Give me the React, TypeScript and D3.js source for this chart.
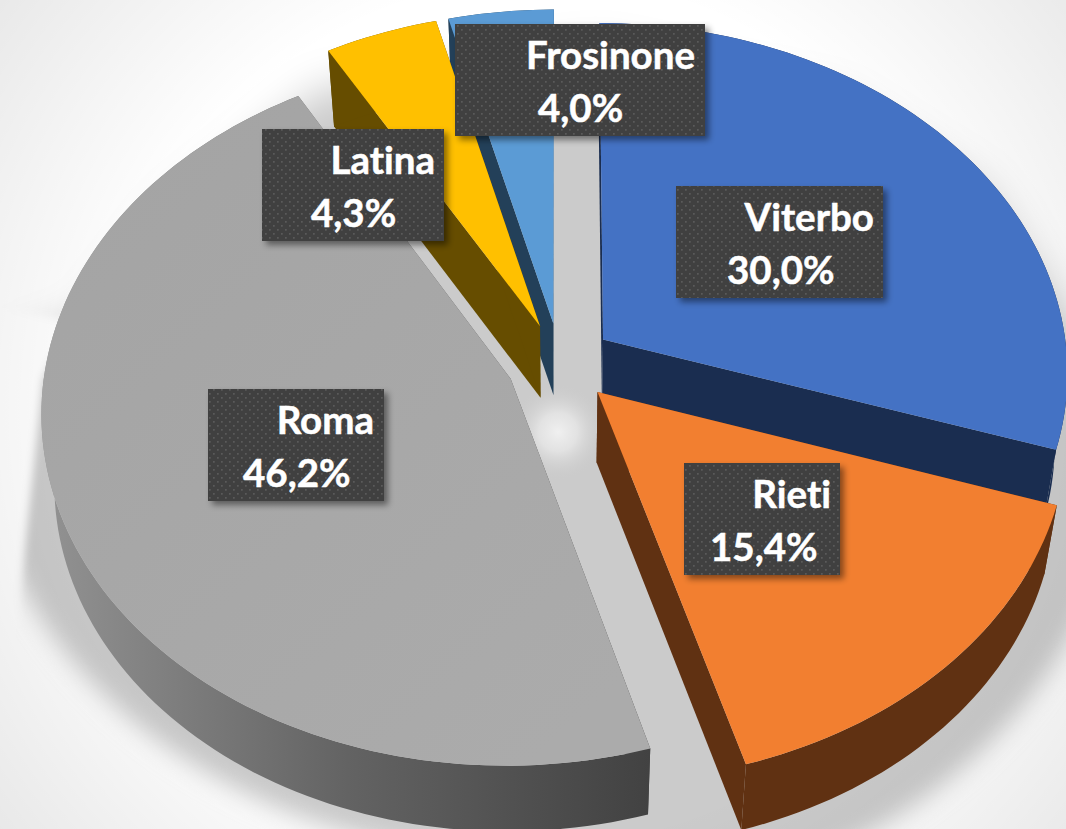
import React from "react";
import * as d3 from "d3";

// values, clockwise from 12 o'clock
const categories = ["Viterbo", "Rieti", "Roma", "Latina", "Frosinone"];
const values = [30.0, 15.4, 46.2, 4.3, 4.0];
const topColors = ["#4472C4", "#F27F30", "url(#romaTop)", "#FFC000", "#5B9BD5"];
const wallColors = ["#1A2D50", "#603112", "url(#romaWall)", "#664D00", "#234059"];
// painter's order, back to front
const drawOrder = [4, 3, 0, 2, 1];

// label boxes: x0, x1, y0, right edge of name, left edge of value
const labelBoxes = [
  { x0: 676, x1: 883, y0: 186, nameRight: 874, valueLeft: 727 },
  { x0: 684, x1: 840, y0: 463, nameRight: 831, valueLeft: 710 },
  { x0: 208, x1: 384, y0: 389, nameRight: 374, valueLeft: 243 },
  { x0: 262, x1: 444, y0: 129, nameRight: 435, valueLeft: 311 },
  { x0: 455, x1: 705, y0: 24, nameRight: 695, valueLeft: 538 },
];

const width = 1066;
const height = 829;

// Fake 3D pie: unit disk projected with a bit of perspective
const cx = 560;
const cy = 363;
const rx = 465;
const ry = 349;
const persp = 0.09;
const explode = 0.115;
const depth = 71;

type Pt = [number, number];

function project(u: number, v: number, bottom: boolean): Pt {
  const w = 1 - persp * v;
  const x = cx + (rx * u) / w;
  const y = cy + (ry * v) / w;
  if (!bottom) return [x, y];
  return [cx + (x - cx) * 0.975, y + depth - 5 * v];
}

const line = d3.line<Pt>();

const pie = d3
  .pie<number>()
  .sort(null)
  .value((d) => d);

function sliceParts(start: number, end: number) {
  const mid = (start + end) / 2;
  const ex = explode * Math.sin(mid);
  const ey = -explode * Math.cos(mid);
  const n = Math.max(4, Math.round((end - start) * 40));
  const angles = d3.range(n + 1).map((i) => start + ((end - start) * i) / n);
  const rim = (bottom: boolean) =>
    angles.map((a) => project(Math.sin(a) + ex, -Math.cos(a) + ey, bottom));
  const apexTop = project(ex, ey, false);
  const apexBottom = project(ex, ey, true);
  const rimTop = rim(false);
  const rimBottom = rim(true);
  return {
    top: line([apexTop, ...rimTop])! + "Z",
    outer: line([...rimTop, ...rimBottom.slice().reverse()])! + "Z",
    wallStart: line([apexTop, rimTop[0], rimBottom[0], apexBottom])! + "Z",
    wallEnd: line([apexTop, rimTop[n], rimBottom[n], apexBottom])! + "Z",
  };
}

export default function App() {
  const arcs = pie(values);
  return (
    <svg
      width={width}
      height={height}
      viewBox={`0 0 ${width} ${height}`}
      style={{ position: "absolute", left: 0, top: 0, background: "#fff" }}
    >
      <defs>
        <filter id="blurBig" filterUnits="userSpaceOnUse" x="-100" y="-100" width="1300" height="1100">
          <feGaussianBlur stdDeviation="12" />
        </filter>
        <filter id="blurTop" filterUnits="userSpaceOnUse" x="-200" y="-200" width="1500" height="900">
          <feGaussianBlur stdDeviation="20" />
        </filter>
        <filter id="blurLeft" x="-50%" y="-20%" width="200%" height="140%">
          <feGaussianBlur stdDeviation="4" />
        </filter>
        <filter id="boxShadow" x="-10%" y="-10%" width="125%" height="130%">
          <feDropShadow dx="4" dy="4" stdDeviation="3" floodColor="#000" floodOpacity="0.45" />
        </filter>
        <pattern id="dots" width="8" height="8" patternUnits="userSpaceOnUse">
          <rect width="8" height="8" fill="#404040" />
          <rect x="1" y="1" width="1.7" height="1.7" fill="#5A5A5A" />
          <rect x="5" y="5" width="1.7" height="1.7" fill="#5A5A5A" />
        </pattern>
        <linearGradient id="romaWall" gradientUnits="userSpaceOnUse" x1="45" y1="0" x2="650" y2="0">
          <stop offset="0" stopColor="#929292" />
          <stop offset="0.5" stopColor="#636363" />
          <stop offset="1" stopColor="#424242" />
        </linearGradient>
        <linearGradient id="romaTop" gradientUnits="userSpaceOnUse" x1="100" y1="150" x2="600" y2="700">
          <stop offset="0" stopColor="#A4A4A4" />
          <stop offset="1" stopColor="#ABABAB" />
        </linearGradient>
        <radialGradient id="glow" gradientUnits="userSpaceOnUse" cx="558" cy="432" r="48">
          <stop offset="0" stopColor="#F0F0F0" stopOpacity="1" />
          <stop offset="0.4" stopColor="#E8E8E8" stopOpacity="0.8" />
          <stop offset="1" stopColor="#CCCCCC" stopOpacity="0" />
        </radialGradient>
        <radialGradient id="corners" gradientUnits="userSpaceOnUse" cx="545" cy="410" r="690">
          <stop offset="0.62" stopColor="#000" stopOpacity="0" />
          <stop offset="1" stopColor="#000" stopOpacity="0.09" />
        </radialGradient>
        <clipPath id="rightHalf">
          <rect x="545" y="0" width="800" height="1100" />
        </clipPath>
      </defs>

      {/* floor shadow under the pie */}
      <g filter="url(#blurBig)" fill="#CBCBCB">
        <ellipse cx={545} cy={420} rx={565} ry={440} />
        <ellipse cx={570} cy={430} rx={555} ry={478} clipPath="url(#rightHalf)" />
      </g>
      <path
        d="M-120,-120H1186V370L1085,340L985,190L840,100L600,50L320,90L170,210L85,320L-120,390Z"
        fill="#fff"
        filter="url(#blurTop)"
      />
      <path d="M-40,300L70,320L43,380L14,650L-40,650Z" fill="#fff" filter="url(#blurLeft)" />
      <rect width={width} height={height} fill="url(#corners)" />
      <ellipse cx={558} cy={432} rx={48} ry={48} fill="url(#glow)" />

      {drawOrder.map((i) => {
        const p = sliceParts(arcs[i].startAngle, arcs[i].endAngle);
        return (
          <g key={categories[i]}>
            <path d={p.wallStart} fill={wallColors[i]} />
            <path d={p.wallEnd} fill={wallColors[i]} />
            <path d={p.outer} fill={wallColors[i]} />
            <path d={p.top} fill={topColors[i]} />
          </g>
        );
      })}

      {/* data labels */}
      {categories.map((name, i) => {
        const b = labelBoxes[i];
        return (
          <g
            key={name}
            fontFamily="Lato, 'Open Sans', sans-serif"
            fontWeight="700"
            fontSize="38.5"
            fill="#fff"
            stroke="#fff"
            strokeWidth="0.5"
            style={{ fontVariantLigatures: "none" }}
          >
            <rect
              x={b.x0}
              y={b.y0}
              width={b.x1 - b.x0}
              height={112}
              fill="url(#dots)"
              stroke="none"
              filter="url(#boxShadow)"
            />
            <text x={b.nameRight} y={b.y0 + 45} textAnchor="end">
              {name}
            </text>
            <text x={b.valueLeft} y={b.y0 + 98}>
              {values[i].toFixed(1).replace(".", ",") + "%"}
            </text>
          </g>
        );
      })}
    </svg>
  );
}
